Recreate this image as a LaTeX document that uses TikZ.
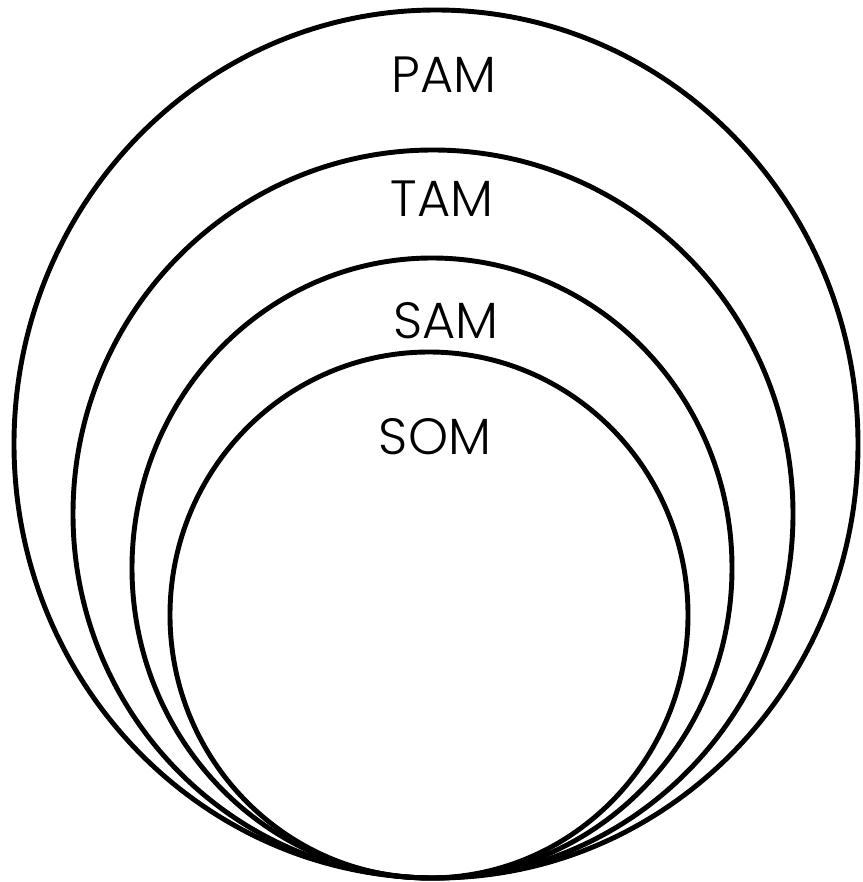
\documentclass[tikz,border=0pt]{standalone}
\usepackage{fontspec}
\setmainfont{Poppins Light}
\usepackage{tikz}

\begin{document}
\begin{tikzpicture}[x=0.02cm, y=-0.02cm, thick]
    \tikzset{
        ring/.style={line width=2.8pt},
        lbl/.style={font=\fontsize{29}{32}\selectfont, inner sep=0pt}
    }
    \useasboundingbox (0, 0) rectangle (862, 882);

    % 四个嵌套的椭圆, 底部相切
    \foreach \cx/\cy/\rx/\ry in {436/444/422/434, 433/514/360/364, 432/568/300/310, 429/615/259/263} {
        \draw[ring] (\cx, \cy) ellipse [x radius=\rx, y radius=\ry];
    }

    % 标签
    \node[lbl] (pam) at (444, 75) {PAM};
    \node[lbl] (tam) at (442, 199) {TAM};
    \node[lbl] (sam) at (446, 321) {SAM};
    \node[lbl] (som) at (435, 437) {SOM};
\end{tikzpicture}
\end{document}
